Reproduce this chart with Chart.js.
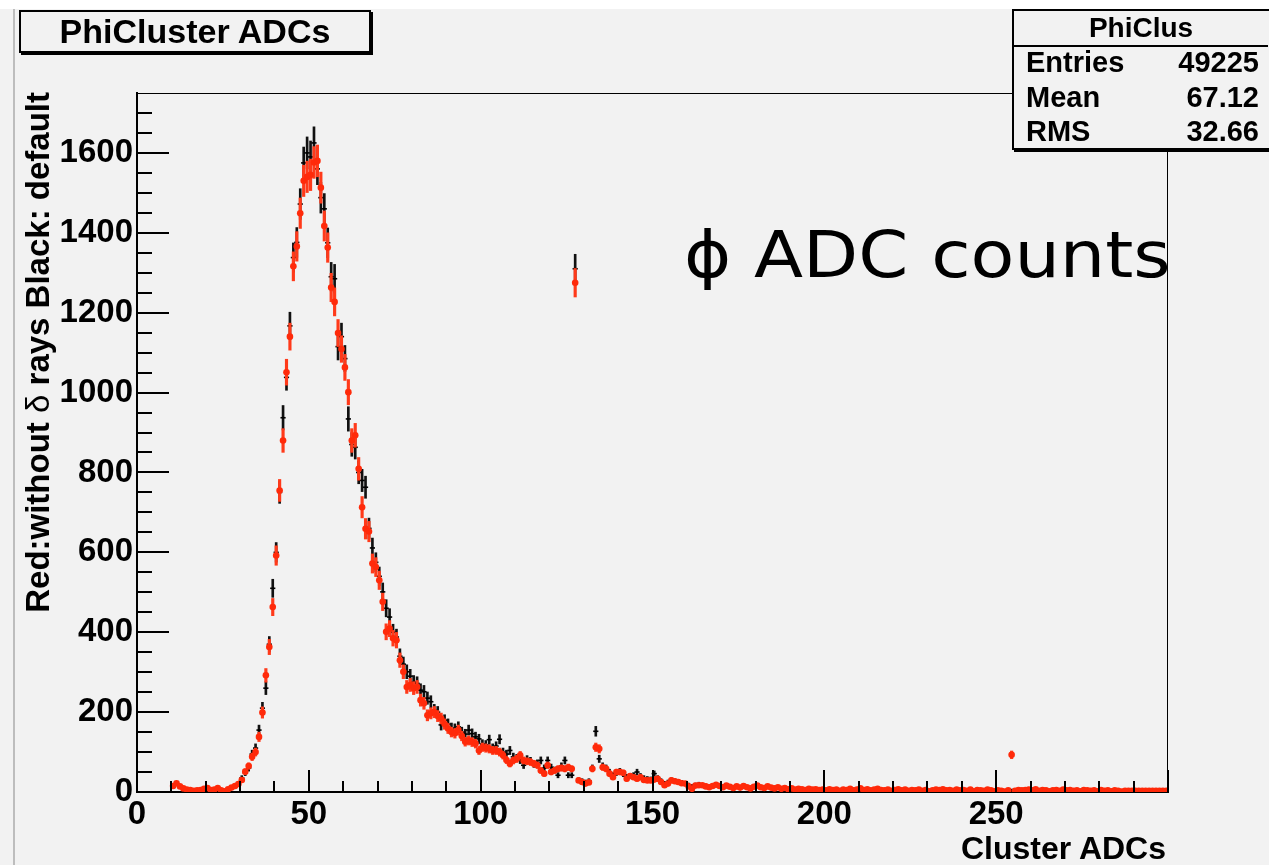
<!DOCTYPE html>
<html>
<head>
<meta charset="utf-8">
<title>PhiCluster ADCs</title>
<script src="https://cdn.jsdelivr.net/npm/chart.js@4.4.1/dist/chart.umd.min.js"></script>
<style>
  body { margin: 0; background: #f2f2f2; }
  #wrap { position: relative; width: 1269px; height: 865px; overflow: hidden; background: #f2f2f2;
          font-family: "Liberation Sans", Arial, sans-serif; color: #000; }
  #topband { position: absolute; left: 0; top: 0; width: 1269px; height: 9px; background: #fff; }
  #edge { position: absolute; left: 13px; top: 9px; width: 2px; height: 856px; background: #bdbdbd; }
  canvas { position: absolute; left: 0; top: 0; }
  .box { position: absolute; box-sizing: border-box; border: 2px solid #000; box-shadow: 2px 2px 0 #000;
         background: #f2f2f2; font-weight: bold; white-space: nowrap; }
  #title { left: 19px; top: 10px; width: 352px; height: 43px; font-size: 34px; line-height: 39px; text-align: center; }
  #stats { left: 1012px; top: 9px; width: 270px; height: 141px; }
  #stats .head { position: absolute; left: 0; top: 0; width: 254px; height: 34px; border-bottom: 2px solid #000;
                 font-size: 28px; line-height: 34px; text-align: center; }
  #stats .row { position: absolute; left: 12px; width: 233px; font-size: 29px; line-height: 34px;
                display: flex; justify-content: space-between; }
  #phi { position: absolute; left: 684px; top: 223px; font-family: "DejaVu Sans", sans-serif; font-size: 64px;
         line-height: 64px; white-space: nowrap; transform: scaleX(1.12); transform-origin: 0 0; }
  #ytitle { position: absolute; left: 21px; top: 692px; width: 600px; font-size: 33px; line-height: 34px;
            font-weight: bold; text-align: right; white-space: nowrap; transform: rotate(-90deg); transform-origin: 0 0; }
  #xtitle { position: absolute; right: 103px; top: 831px; font-size: 32px; line-height: 34px; font-weight: bold;
            white-space: nowrap; }
</style>
</head>
<body>
<div id="wrap">
  <div id="topband"></div>
  <div id="edge"></div>
  <canvas id="grafico" width="1269" height="865"></canvas>
  <div id="title" class="box">PhiCluster ADCs</div>
  <div id="stats" class="box">
    <div class="head">PhiClus</div>
    <div class="row" style="top:34px"><span>Entries</span><span>49225</span></div>
    <div class="row" style="top:69px"><span>Mean</span><span>67.12</span></div>
    <div class="row" style="top:103px"><span>RMS</span><span>32.66</span></div>
  </div>
  <div id="phi">ϕ ADC counts</div>
  <div id="ytitle">Red:without <span style="font-weight:normal">δ</span> rays Black: default</div>
  <div id="xtitle">Cluster ADCs</div>
</div>
<script>
// ========== dados (bins de 1 ADC, primeiro bin = 10) ==========
const primeiroBin = 10;

// Black: default
const contagensPadrao = [
  12, 20, 14, 8, 6, 4, 3, 5, 4, 7,            // 10-19
  9, 4, 6, 9, 5, 3, 6, 10, 14, 18,            // 20-29
  35, 48, 60, 95, 110, 155, 210, 260, 370, 510, // 30-39
  600, 750, 937, 1038, 1167, 1338, 1376, 1472, 1575, 1600, // 40-49
  1590, 1625, 1560, 1488, 1460, 1375, 1290, 1285, 1115, 1140, // 50-59
  1085, 934, 870, 863, 800, 780, 763, 660, 611, 575, // 60-69
  540, 501, 460, 438, 400, 388, 340, 320, 301, 290, // 70-79
  275, 272, 255, 251, 235, 226, 205, 200, 168, 180, // 80-89
  170, 160, 158, 163, 150, 145, 155, 146, 138, 133, // 90-99
  120, 118, 131, 110, 115, 132, 100, 95, 104, 88,   // 100-109
  85, 80, 67, 82, 78, 70, 72, 79, 60, 79,           // 110-119
  62, 55, 42, 65, 79, 42, 42, 1310, 30, 28,         // 120-129
  25, 28, 60, 152, 83, 65, 60, 50, 42, 48,          // 130-139
  52, 45, 38, 40, 42, 50, 40, 35, 33, 32,           // 140-149
  46, 35, 28, 22, 25, 30, 28, 26, 24, 22,           // 150-159
  18, 15, 18, 20, 17, 16, 14, 16, 18, 16,           // 160-169
  14, 17, 14, 12, 15, 12, 14, 13, 10, 12,           // 170-179
  15, 13, 11, 13, 12, 10, 11, 9, 11, 8,             // 180-189
  9, 7, 8, 6, 6, 7, 6, 8, 5, 6,                     // 190-199
  5, 6, 5, 7, 4, 5, 6, 7, 5, 6,                     // 200-209
  8, 5, 6, 5, 6, 7, 5, 5, 6, 4,                     // 210-219
  5, 6, 4, 5, 4, 5, 4, 5, 4, 5,                     // 220-229
  3, 4, 5, 5, 6, 4, 5, 4, 5, 4,                     // 230-239
  5, 4, 5, 3, 5, 4, 4, 5, 4, 3,                     // 240-249
  4, 3, 2, 4, 5, 3, 4, 4, 5, 5,                     // 250-259
  4, 6, 3, 5, 4, 3, 4, 4, 3, 5,                     // 260-269
  4, 4, 3, 4, 3, 4, 4, 3, 4, 3,                     // 270-279
  4, 3, 4, 3, 3, 3, 2, 3, 3, 3,                     // 280-289
  3, 3, 3, 3, 3, 3, 3, 3, 3, 3                      // 290-299
];

// Red: without delta rays
const contagensSemDelta = [
  15, 22, 14, 9, 6, 5, 3, 4, 5, 8,            // 10-19
  10, 5, 6, 10, 4, 2, 7, 11, 15, 20,          // 20-29
  30, 51, 65, 88, 100, 138, 199, 292, 363, 463, // 30-39
  592, 755, 880, 1051, 1140, 1316, 1366, 1449, 1530, 1540, // 40-49
  1545, 1576, 1580, 1513, 1417, 1363, 1263, 1227, 1149, 1109, // 50-59
  1063, 1001, 880, 893, 809, 713, 659, 652, 572, 563, // 60-69
  530, 476, 401, 409, 385, 380, 330, 301, 263, 268, // 70-79
  260, 263, 230, 222, 192, 197, 200, 190, 184, 170, // 80-89
  159, 150, 147, 155, 140, 126, 129, 125, 121, 104, // 90-99
  112, 110, 108, 104, 104, 100, 92, 80, 71, 79,     // 100-109
  83, 92, 79, 77, 75, 71, 67, 54, 46, 67,           // 110-119
  50, 54, 58, 60, 58, 62, 58, 1275, 29, 25,         // 120-129
  21, 24, 58, 112, 108, 62, 58, 46, 37, 50,         // 130-139
  50, 48, 33, 40, 37, 33, 37, 30, 29, 29,           // 140-149
  31, 33, 25, 17, 21, 29, 27, 25, 22, 21,           // 150-159
  14, 8, 16, 17, 17, 14, 12, 15, 18, 15,            // 160-169
  12, 16, 13, 10, 14, 11, 15, 12, 9, 13,            // 170-179
  16, 12, 10, 14, 11, 9, 12, 8, 10, 7,              // 180-189
  9, 6, 8, 7, 5, 8, 6, 7, 5, 6,                     // 190-199
  4, 7, 5, 6, 3, 6, 5, 8, 4, 6,                     // 200-209
  9, 5, 7, 4, 6, 8, 5, 4, 6, 3,                     // 210-219
  5, 7, 4, 6, 3, 5, 4, 6, 3, 5,                     // 220-229
  2, 4, 6, 5, 7, 4, 5, 3, 6, 4,                     // 230-239
  5, 3, 6, 2, 5, 4, 3, 6, 4, 2,                     // 240-249
  4, 3, 1, 4, 93, 3, 5, 4, 5, 6,                    // 250-259
  4, 7, 3, 5, 4, 2, 4, 5, 3, 6,                     // 260-269
  4, 5, 3, 4, 2, 5, 4, 3, 4, 2,                     // 270-279
  5, 3, 4, 2, 4, 3, 1, 3, 3, 3,                     // 280-289
  3, 3, 3, 3, 3, 3, 3, 3, 3, 3                      // 290-299
];

const ticksX = [0, 50, 100, 150, 200, 250];
const ticksY = [0, 200, 400, 600, 800, 1000, 1200, 1400, 1600];

// ========== helpers ==========
function pontos(contagens) {
  const lista = [];
  contagens.forEach((n, i) => {
    lista.push({ x: primeiroBin + i + 0.5, y: n });
  });
  return lista;
}

function barrasErro(contagens) {
  const lista = [];
  contagens.forEach((n, i) => {
    if (n > 0) {
      const e = Math.sqrt(n);
      lista.push({ x: primeiroBin + i + 0.5, y: [n - e, n + e] });
    }
  });
  return lista;
}

// ticks de dentro, estilo ROOT
const ticksRoot = {
  id: "ticksRoot",
  afterDraw(chart) {
    const { ctx, chartArea: a, scales } = chart;
    const sx = scales.x;
    const sy = scales.y;
    ctx.save();
    ctx.strokeStyle = "#000";
    ctx.lineWidth = 1;
    ctx.strokeRect(a.left + 0.5, a.top + 0.5, a.right - a.left - 1, a.bottom - a.top);
    ctx.lineWidth = 2;
    for (let v = 0; v <= 300; v += 10) {
      const px = Math.round(sx.getPixelForValue(v));
      const len = v % 50 === 0 ? 22 : 11;
      ctx.beginPath();
      ctx.moveTo(px, a.bottom);
      ctx.lineTo(px, a.bottom - len);
      ctx.stroke();
    }
    for (let v = 0; v <= 1700; v += 50) {
      const py = Math.round(sy.getPixelForValue(v));
      const len = v % 200 === 0 ? 32 : 15;
      ctx.beginPath();
      ctx.moveTo(a.left, py);
      ctx.lineTo(a.left + len, py);
      ctx.stroke();
    }
    ctx.restore();
  },
};

const fonteEixo = { family: "'Liberation Sans', Arial, sans-serif", size: 33, weight: "bold" };

const ctx = document.getElementById("grafico").getContext("2d");
const myChart = new Chart(ctx, {
  type: "scatter",
  data: {
    datasets: [
      {
        label: "Red: without delta rays",
        data: pontos(contagensSemDelta),
        pointStyle: "circle",
        pointRadius: 3.3,
        backgroundColor: "#ff2a0a",
        borderWidth: 0,
        order: 0,
      },
      {
        type: "bar",
        label: "Red err",
        data: barrasErro(contagensSemDelta),
        backgroundColor: "#ff3a1a",
        barThickness: 2.5,
        grouped: false,
        borderWidth: 0,
        order: 1,
      },
      {
        label: "Black: default",
        data: pontos(contagensPadrao),
        pointStyle: "line",
        pointRadius: 2.6,
        borderColor: "#000",
        borderWidth: 1.6,
        order: 2,
      },
      {
        type: "bar",
        label: "Black err",
        data: barrasErro(contagensPadrao),
        backgroundColor: "#111",
        barThickness: 2,
        grouped: false,
        borderWidth: 0,
        order: 3,
      },
    ],
  },
  options: {
    responsive: false,
    animation: false,
    layout: { padding: { left: 0, top: 93, right: 101, bottom: 0 } },
    plugins: { legend: { display: false }, tooltip: { enabled: false } },
    scales: {
      x: {
        type: "linear",
        min: 0,
        max: 300,
        offset: false,
        grid: { display: false, drawTicks: false },
        border: { display: true, color: "#000", width: 2 },
        afterFit: (s) => { s.height = 73; },
        afterBuildTicks: (s) => { s.ticks = ticksX.map((v) => ({ value: v })); },
        ticks: { font: fonteEixo, color: "#000", padding: 3, maxRotation: 0, autoSkip: false,
                 callback: (v) => String(v) },
      },
      y: {
        type: "linear",
        min: 0,
        max: 1750,
        grid: { display: false, drawTicks: false },
        border: { display: true, color: "#000", width: 2 },
        afterFit: (s) => { s.width = 137; },
        afterBuildTicks: (s) => { s.ticks = ticksY.map((v) => ({ value: v })); },
        ticks: { font: fonteEixo, color: "#000", padding: 4, autoSkip: false,
                 callback: (v) => String(v) },
      },
    },
  },
  plugins: [ticksRoot],
});
</script>
</body>
</html>
